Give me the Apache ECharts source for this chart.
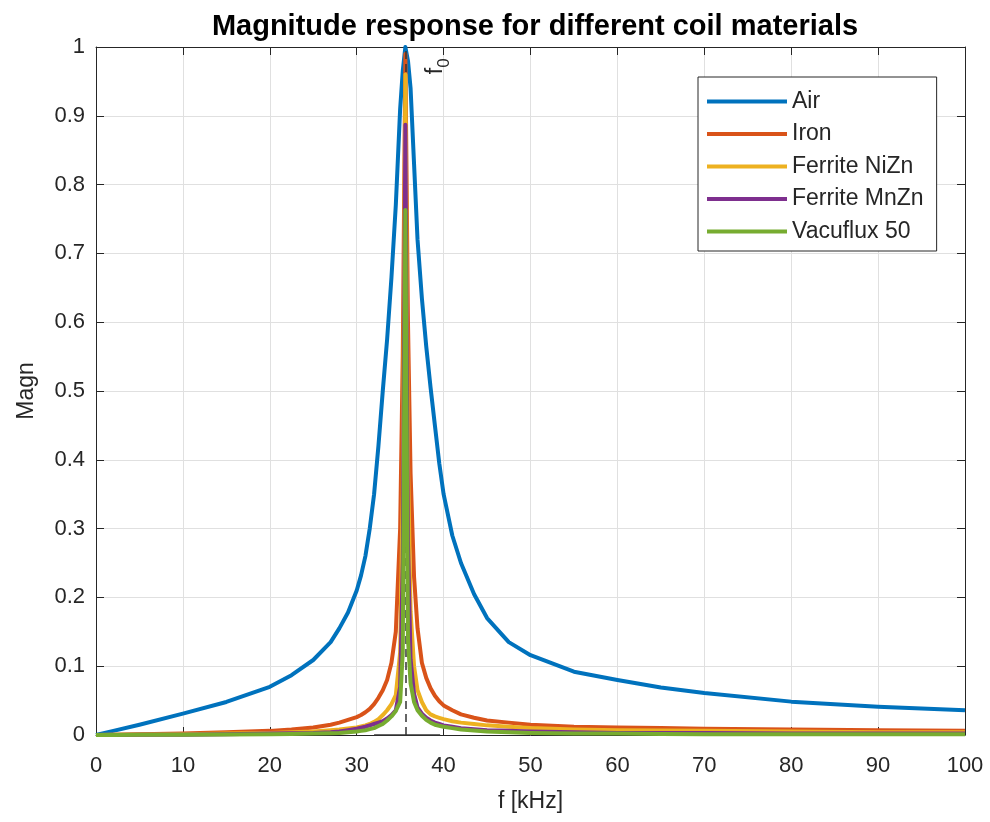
<!DOCTYPE html>
<html>
<head>
<meta charset="utf-8">
<script src="https://cdn.jsdelivr.net/npm/echarts@6/dist/echarts.min.js"></script>
<style>
  html, body { margin: 0; padding: 0; background: #fff; }
  #chart { width: 990px; height: 822px; }
</style>
</head>
<body>
<div id="chart"></div>
<script>
// frequency points in kHz (denser around the resonance)
var freq = [0, 2, 5, 10, 15, 20, 22.5, 25, 27, 28,
  29, 30, 30.5, 31, 31.5, 32, 32.5, 33, 33.5, 34,
  34.5, 35, 35.3, 35.6, 35.9, 36.2, 36.6, 37, 37.5, 38,
  38.5, 39, 39.5, 40, 41, 42, 43.5, 45, 47.5, 50,
  55, 60, 65, 70, 80, 90, 100];

var airMag = [0, 0.006, 0.015, 0.031, 0.048, 0.070, 0.087, 0.109, 0.135, 0.155,
  0.178, 0.21, 0.232, 0.26, 0.30, 0.35, 0.42, 0.50, 0.575, 0.665,
  0.77, 0.91, 0.965, 1.0, 0.98, 0.94, 0.83, 0.72, 0.635, 0.565,
  0.505, 0.45, 0.395, 0.35, 0.29, 0.25, 0.205, 0.17, 0.135, 0.116,
  0.092, 0.080, 0.069, 0.061, 0.0485, 0.041, 0.036];
var ironMag = [0, 0.0005, 0.001, 0.002, 0.004, 0.006, 0.008, 0.011, 0.015, 0.018,
  0.022, 0.026, 0.029, 0.033, 0.038, 0.045, 0.054, 0.065, 0.08, 0.105,
  0.15, 0.30, 0.55, 0.99, 0.60, 0.38, 0.23, 0.155, 0.105, 0.083,
  0.068, 0.057, 0.049, 0.043, 0.036, 0.030, 0.025, 0.021, 0.018, 0.015,
  0.012, 0.011, 0.010, 0.009, 0.008, 0.007, 0.006];
var niznMag = [0, 0.0003, 0.0006, 0.001, 0.002, 0.003, 0.004, 0.005, 0.007, 0.008,
  0.0095, 0.011, 0.0125, 0.014, 0.016, 0.019, 0.023, 0.029, 0.036, 0.045,
  0.058, 0.12, 0.35, 0.96, 0.40, 0.18, 0.10, 0.065, 0.048, 0.036,
  0.030, 0.027, 0.025, 0.023, 0.020, 0.018, 0.016, 0.014, 0.012, 0.010,
  0.008, 0.007, 0.0065, 0.006, 0.005, 0.004, 0.004];
var mnznMag = [0, 0.0001, 0.0003, 0.0005, 0.001, 0.002, 0.0025, 0.003, 0.004, 0.005,
  0.007, 0.009, 0.0105, 0.012, 0.014, 0.016, 0.018, 0.02, 0.024, 0.029,
  0.036, 0.07, 0.25, 0.887, 0.28, 0.11, 0.06, 0.04, 0.031, 0.025,
  0.021, 0.018, 0.016, 0.014, 0.012, 0.010, 0.0085, 0.007, 0.006, 0.005,
  0.004, 0.003, 0.003, 0.003, 0.002, 0.002, 0.002];
var vacuMag = [0, 0.0001, 0.0002, 0.0003, 0.0006, 0.001, 0.0015, 0.002, 0.0025, 0.003,
  0.004, 0.005, 0.006, 0.007, 0.0085, 0.01, 0.013, 0.016, 0.021, 0.027,
  0.035, 0.048, 0.12, 0.763, 0.14, 0.075, 0.048, 0.036, 0.028, 0.022,
  0.018, 0.015, 0.0135, 0.012, 0.010, 0.008, 0.0065, 0.005, 0.004, 0.003,
  0.002, 0.002, 0.0015, 0.001, 0.001, 0.001, 0.001];

var names = ['Air', 'Iron', 'Ferrite NiZn', 'Ferrite MnZn', 'Vacuflux 50'];
var colors = ['#0072BD', '#D95319', '#EDB120', '#7E2F8E', '#77AC30'];
var f0 = 35.6;

var chart = echarts.init(document.getElementById('chart'));
var font = 'Liberation Sans, Arial, sans-serif';
var axisCol = '#262626';

function pairs(vals) {
  return freq.map(function (f, i) { return [f, vals[i]]; });
}

var allMags = [airMag, ironMag, niznMag, mnznMag, vacuMag];
var series = allMags.map(function (m, i) {
  return {
    name: names[i],
    type: 'line',
    data: pairs(m),
    showSymbol: false,
    symbol: 'none',
    clip: true,
    lineStyle: { width: 4, color: colors[i], join: 'round' },
    itemStyle: { color: colors[i] },
    z: 3 + i
  };
});

// dashed f0 marker line, stem baseline and label
series.push({
  type: 'line',
  data: [],
  z: 10,
  markLine: {
    silent: true,
    symbol: 'none',
    label: { show: false },
    data: [
      [{ coord: [f0, 0], lineStyle: { type: [8, 5], color: '#333', width: 1.5 } }, { coord: [f0, 1] }],
      [{ coord: [32, 0], lineStyle: { type: 'solid', color: '#333', width: 1.5 } }, { coord: [39.6, 0] }]
    ]
  },
  markPoint: {
    silent: true,
    symbol: 'circle',
    symbolSize: 0,
    data: [{ coord: [39.1, 0.972] }],
    label: {
      show: true,
      rotate: 90,
      formatter: '{a|f}{b|0}',
      rich: {
        a: { fontSize: 23, fontFamily: font, color: axisCol },
        b: { fontSize: 17, fontFamily: font, color: axisCol, verticalAlign: 'bottom', padding: [0, 0, -6, 0] }
      }
    }
  }
});

var option = {
  animation: false,
  backgroundColor: '#fff',
  title: {
    text: 'Magnitude response for different coil materials',
    left: 530,
    textAlign: 'center',
    top: 7,
    textStyle: { fontFamily: font, fontSize: 29, fontWeight: 'bold', color: '#000' }
  },
  legend: {
    data: names,
    orient: 'vertical',
    left: 698,
    top: 77,
    icon: 'rect',
    itemWidth: 80,
    itemHeight: 4,
    itemGap: 9.5,
    padding: [13, 13, 8, 9],
    borderColor: axisCol,
    borderWidth: 1,
    backgroundColor: '#fff',
    textStyle: { fontFamily: font, fontSize: 23, color: axisCol }
  },
  grid: { left: 96, right: 25, top: 47, bottom: 87, containLabel: false },
  xAxis: [{
    type: 'value',
    min: 0,
    max: 100,
    interval: 10,
    name: 'f [kHz]',
    nameLocation: 'middle',
    nameGap: 55,
    nameTextStyle: { fontFamily: font, fontSize: 23, color: axisCol },
    axisLine: { lineStyle: { color: axisCol, width: 1 } },
    axisTick: { inside: true, length: 8, lineStyle: { color: axisCol } },
    axisLabel: { fontFamily: font, fontSize: 22, color: axisCol, margin: 20 },
    splitLine: { show: true, lineStyle: { color: '#e0e0e0', width: 1 } }
  }, {
    type: 'value',
    position: 'top',
    min: 0,
    max: 100,
    interval: 10,
    axisLine: { show: true, onZero: false, lineStyle: { color: axisCol, width: 1 } },
    axisTick: { inside: true, length: 8, lineStyle: { color: axisCol } },
    axisLabel: { show: false },
    splitLine: { show: false }
  }],
  yAxis: [{
    type: 'value',
    min: 0,
    max: 1,
    interval: 0.1,
    name: 'Magn',
    nameLocation: 'middle',
    nameGap: 58,
    nameTextStyle: { fontFamily: font, fontSize: 23, color: axisCol },
    axisLine: { show: true, lineStyle: { color: axisCol, width: 1 } },
    axisTick: { show: true, inside: true, length: 8, lineStyle: { color: axisCol } },
    axisLabel: { fontFamily: font, fontSize: 22, color: axisCol, margin: 11 },
    splitLine: { show: true, lineStyle: { color: '#e0e0e0', width: 1 } }
  }, {
    type: 'value',
    position: 'right',
    min: 0,
    max: 1,
    interval: 0.1,
    axisLine: { show: true, onZero: false, lineStyle: { color: axisCol, width: 1 } },
    axisTick: { show: true, inside: true, length: 8, lineStyle: { color: axisCol } },
    axisLabel: { show: false },
    splitLine: { show: false }
  }],
  series: series
};

chart.setOption(option);
</script>
</body>
</html>
